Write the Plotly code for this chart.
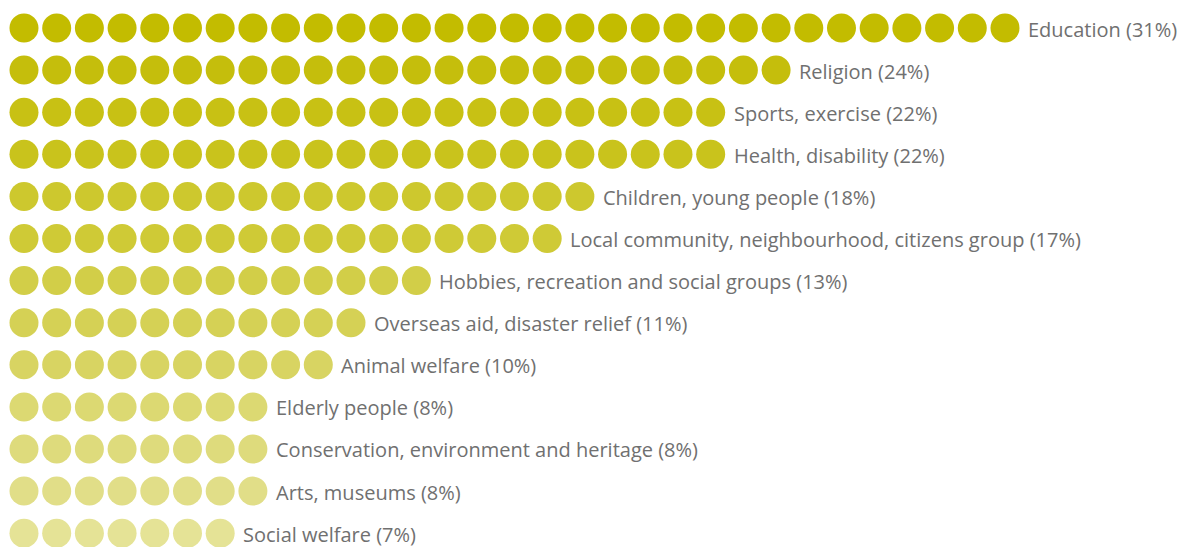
import plotly.graph_objects as go

categories = [
    "Education", "Religion", "Sports, exercise", "Health, disability",
    "Children, young people", "Local community, neighbourhood, citizens group",
    "Hobbies, recreation and social groups", "Overseas aid, disaster relief",
    "Animal welfare", "Elderly people", "Conservation, environment and heritage",
    "Arts, museums", "Social welfare",
]
percent = [31, 24, 22, 22, 18, 17, 13, 11, 10, 8, 8, 8, 7]
row_colors = [
    "#c3bc00", "#c5be0c", "#c8c114", "#c9c31c", "#cdc82e", "#cfca36",
    "#d2ce48", "#d5d155", "#d8d462", "#dcd972", "#dedb7c", "#e1de88", "#e5e396",
]

fig = go.Figure()
for r, (cat, n, col) in enumerate(zip(categories, percent, row_colors)):
    fig.add_trace(go.Scatter(
        x=list(range(n)), y=[r] * n, mode="markers",
        marker=dict(size=29, color=col, line=dict(width=0)),
        hoverinfo="skip", showlegend=False,
    ))
    fig.add_annotation(
        x=n - 1, y=r, text=f"{cat} ({n}%)", showarrow=False,
        xanchor="left", yanchor="middle", xshift=21, yshift=-1,
        font=dict(family="Open Sans", size=20, color="#707070"),
    )

fig.update_layout(
    width=1178, height=547,
    margin=dict(l=0, r=0, t=0, b=0),
    paper_bgcolor="white", plot_bgcolor="white",
    xaxis=dict(range=[-0.489, 35.536], visible=False, fixedrange=True),
    yaxis=dict(range=[12.518, -0.475], visible=False, fixedrange=True),
)
fig.write_html("out.html")
